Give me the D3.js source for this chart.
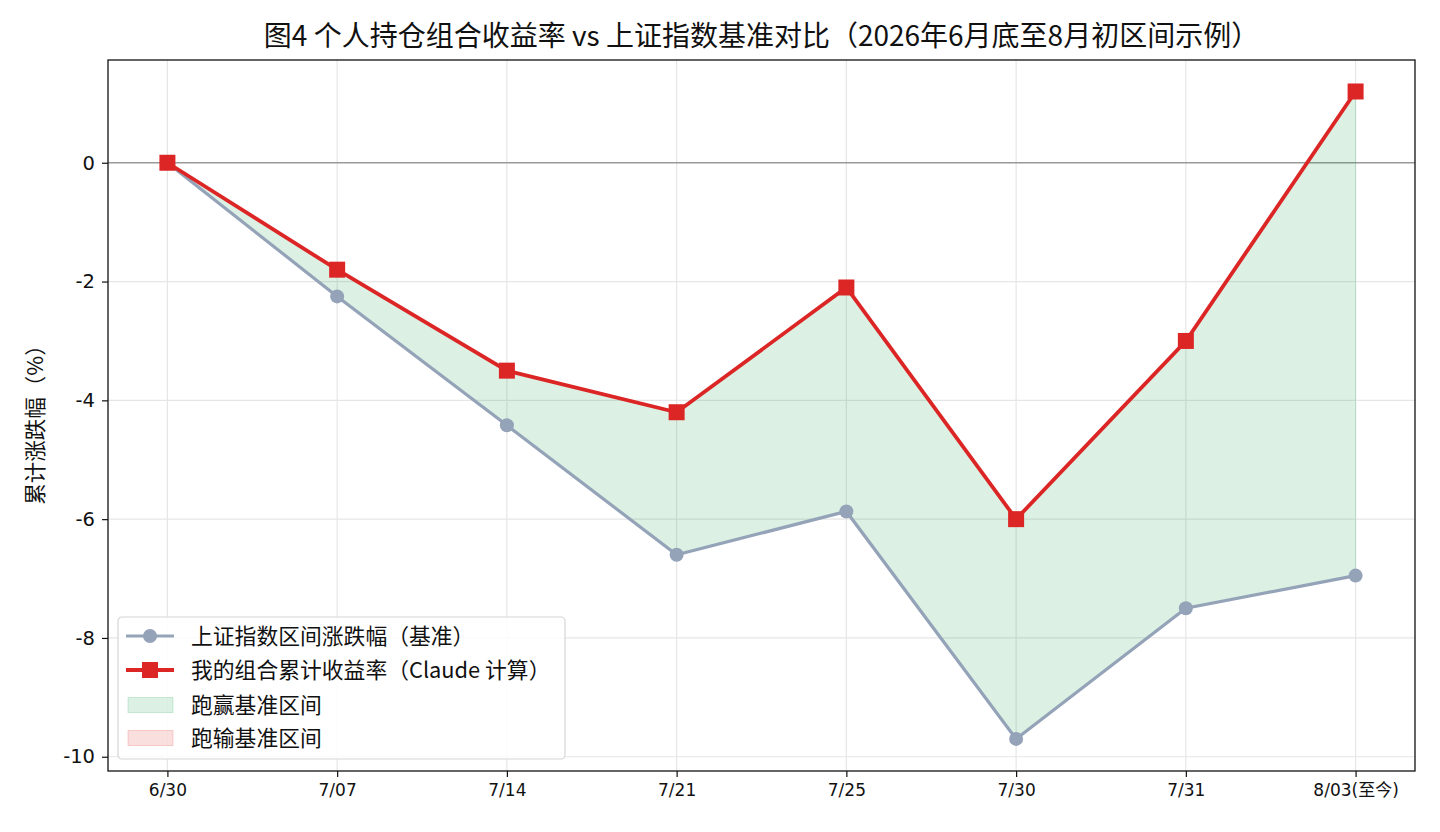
<!DOCTYPE html>
<html>
<head>
<meta charset="utf-8">
<script src="https://cdn.jsdelivr.net/npm/d3@7"></script>
<style>
  body { margin: 0; background: #fff; }
  svg { display: block; }
</style>
</head>
<body>
<svg id="chart" width="1440" height="832"></svg>
<script>
const dates = ['6/30', '7/07', '7/14', '7/21', '7/25', '7/30', '7/31', '8/03(至今)'];
const benchmark = [0, -2.25, -4.42, -6.6, -5.87, -9.7, -7.5, -6.95];
const portfolio = [0, -1.8, -3.5, -4.2, -2.1, -6.0, -3.0, 1.2];
const yTicks = [0, -2, -4, -6, -8, -10];
const legendLabels = ['上证指数区间涨跌幅（基准）', '我的组合累计收益率（Claude 计算）', '跑赢基准区间', '跑输基准区间'];

const margin = { top: 60, right: 25, bottom: 61, left: 108 };
const width = 1440 - margin.left - margin.right;
const height = 832 - margin.top - margin.bottom;

const cjk = '"Noto Sans CJK SC", "DejaVu Sans", sans-serif';
const latin = '"DejaVu Sans", "Noto Sans CJK SC", sans-serif';
const red = '#dc2626';
const slate = '#94a3b8';

const xScale = d3.scaleLinear().domain([-0.35, dates.length - 1 + 0.35]).range([0, width]);
const yScale = d3.scaleLinear().domain([-10.24, 1.73]).range([height, 0]);

const svgEl = d3.select('#chart');
svgEl.selectAll('*').remove();

// Title
svgEl.append('text')
    .attr('x', margin.left + width / 2)
    .attr('y', 46)
    .attr('text-anchor', 'middle')
    .attr('font-family', cjk)
    .attr('font-size', 28)
    .attr('fill', '#111')
    .text('图4 个人持仓组合收益率 vs 上证指数基准对比（2026年6月底至8月初区间示例）');

const svg = svgEl.append('g')
    .attr('transform', `translate(${margin.left},${margin.top})`);

// Grid lines
svg.append('g').selectAll('line')
    .data(d3.range(dates.length))
    .join('line')
    .attr('x1', (i) => xScale(i)).attr('x2', (i) => xScale(i))
    .attr('y1', 0).attr('y2', height)
    .attr('stroke', '#e6e6e6').attr('stroke-width', 1.2);

svg.append('g').selectAll('line')
    .data(yTicks.filter((v) => v !== 0))
    .join('line')
    .attr('x1', 0).attr('x2', width)
    .attr('y1', (v) => yScale(v)).attr('y2', (v) => yScale(v))
    .attr('stroke', '#e6e6e6').attr('stroke-width', 1.2);

// Axes
const xAxisGroup = svg.append('g')
    .attr('transform', `translate(0,${height})`)
    .call(d3.axisBottom(xScale)
        .tickValues(d3.range(dates.length))
        .tickFormat((i) => dates[i])
        .tickSizeOuter(0)
        .tickSize(6)
        .tickPadding(7));
xAxisGroup.select('.domain').remove();
xAxisGroup.selectAll('line').attr('stroke', '#111').attr('stroke-width', 1.2);
xAxisGroup.selectAll('text')
    .attr('font-family', latin)
    .attr('font-size', 17)
    .attr('fill', '#111');

const yAxisGroup = svg.append('g')
    .call(d3.axisLeft(yScale).tickValues(yTicks).tickSize(6).tickPadding(7).tickFormat((v) => v));
yAxisGroup.select('.domain').remove();
yAxisGroup.selectAll('line').attr('stroke', '#111').attr('stroke-width', 1.2);
yAxisGroup.selectAll('text')
    .attr('font-family', latin)
    .attr('font-size', 19.5)
    .attr('fill', '#111');

// Zero line
svg.append('line')
    .attr('x1', 0).attr('x2', width)
    .attr('y1', yScale(0)).attr('y2', yScale(0))
    .attr('stroke', '#999').attr('stroke-width', 1.3);

// Fill between series (outperform = green)
const pairs = dates.map((d, i) => ({ i, b: benchmark[i], p: portfolio[i] }));
const area = d3.area()
    .x((d) => xScale(d.i))
    .y0((d) => yScale(d.b))
    .y1((d) => yScale(d.p));
svg.append('path')
    .attr('d', area(pairs))
    .attr('fill', '#16a34a')
    .attr('fill-opacity', 0.15)
    .attr('stroke', '#16a34a')
    .attr('stroke-opacity', 0.15);

// Lines
const line = d3.line().x((d, i) => xScale(i)).y((d) => yScale(d));

svg.append('path')
    .attr('d', line(benchmark))
    .attr('fill', 'none')
    .attr('stroke', slate)
    .attr('stroke-width', 3.2);
svg.append('g').selectAll('circle')
    .data(benchmark)
    .join('circle')
    .attr('cx', (d, i) => xScale(i))
    .attr('cy', (d) => yScale(d))
    .attr('r', 7)
    .attr('fill', slate);

svg.append('path')
    .attr('d', line(portfolio))
    .attr('fill', 'none')
    .attr('stroke', red)
    .attr('stroke-width', 3.8);
svg.append('g').selectAll('rect')
    .data(portfolio)
    .join('rect')
    .attr('x', (d, i) => xScale(i) - 8)
    .attr('y', (d) => yScale(d) - 8)
    .attr('width', 16)
    .attr('height', 16)
    .attr('fill', red);

// Frame
svg.append('rect')
    .attr('width', width)
    .attr('height', height)
    .attr('fill', 'none')
    .attr('stroke', '#111')
    .attr('stroke-width', 1.3);

// Y label
svgEl.append('text')
    .attr('transform', `translate(43,${margin.top + height / 2 + 4}) rotate(-90)`)
    .attr('text-anchor', 'middle')
    .attr('font-family', cjk)
    .attr('font-size', 21.5)
    .attr('fill', '#111')
    .text('累计涨跌幅（%）');

// Legend
const legend = svg.append('g').attr('transform', `translate(${118 - margin.left},${617 - margin.top})`);
legend.append('rect')
    .attr('width', 447).attr('height', 142)
    .attr('rx', 4)
    .attr('fill', 'rgba(255,255,255,0.85)')
    .attr('stroke', '#d6d6d6').attr('stroke-width', 1.2);

const rowY = [19, 53, 88, 121];
legendLabels.forEach((label, k) => {
    const g = legend.append('g').attr('transform', `translate(0,${rowY[k]})`);
    if (k === 0) {
        g.append('line').attr('x1', 8).attr('x2', 56).attr('stroke', slate).attr('stroke-width', 3.2);
        g.append('circle').attr('cx', 32).attr('r', 7).attr('fill', slate);
    } else if (k === 1) {
        g.append('line').attr('x1', 8).attr('x2', 56).attr('stroke', red).attr('stroke-width', 3.8);
        g.append('rect').attr('x', 24).attr('y', -8).attr('width', 16).attr('height', 16).attr('fill', red);
    } else {
        const c = k === 2 ? '#16a34a' : red;
        g.append('rect').attr('x', 10).attr('y', -7.5).attr('width', 45).attr('height', 15)
            .attr('fill', c).attr('fill-opacity', 0.15)
            .attr('stroke', c).attr('stroke-opacity', 0.2);
    }
    g.append('text')
        .attr('x', 73)
        .attr('dy', '0.35em')
        .attr('font-family', cjk)
        .attr('font-size', 21.8)
        .attr('fill', '#111')
        .text(label);
});
</script>
</body>
</html>
